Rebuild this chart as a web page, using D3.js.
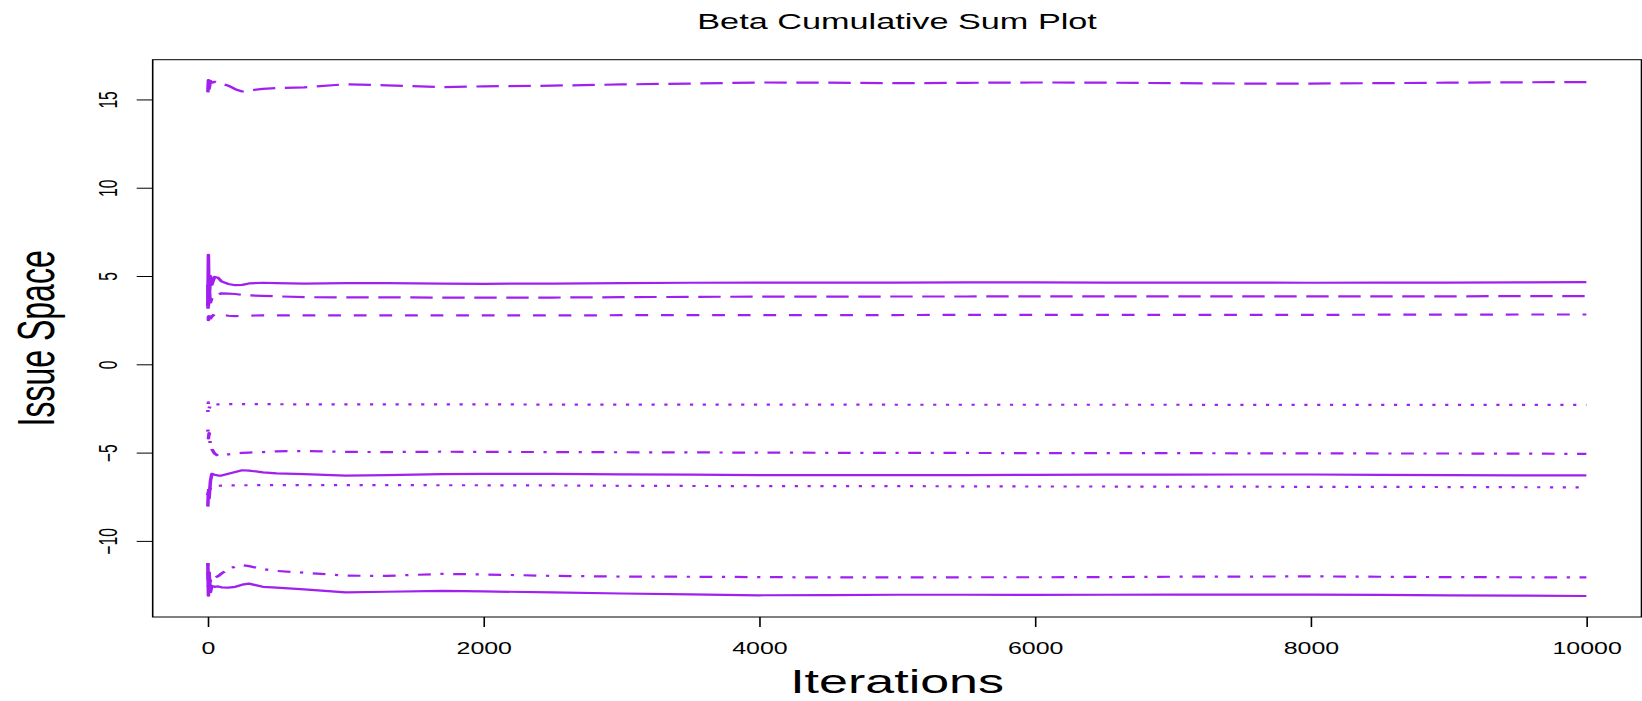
<!DOCTYPE html>
<html><head><meta charset="utf-8">
<script src="https://cdn.jsdelivr.net/npm/d3@7"></script>
<style>
body{margin:0;background:#fff}
svg{display:block}
text{font-family:"Liberation Sans",Arial,Helvetica,sans-serif;fill:#000}
</style>
</head><body>
<script>
// ---- data ----
const iterations = [1,5,10,20,30,50,75,100,150,200,250,300,400,500,700,1000,1300,1700,2000,2500,3000,3500,4000,4500,5000,5500,6000,6500,7000,7500,8000,8500,9000,9500,10000];
const beta1 = [15.4,16.1,15.6,16.05,15.95,16.0,15.95,15.9,15.78,15.58,15.45,15.5,15.6,15.65,15.68,15.86,15.8,15.7,15.74,15.78,15.85,15.9,15.96,15.95,15.92,15.94,15.96,15.95,15.92,15.9,15.9,15.92,15.95,15.97,15.98];
const beta2 = [3.3,6.2,3.6,5.0,4.5,4.95,4.9,4.7,4.55,4.48,4.5,4.58,4.62,4.6,4.57,4.6,4.6,4.57,4.56,4.57,4.6,4.62,4.63,4.63,4.63,4.64,4.64,4.63,4.63,4.63,4.62,4.63,4.63,4.64,4.65];
const beta3 = [4.5,3.3,4.2,3.5,3.75,3.8,3.95,4.02,4.0,3.98,3.93,3.9,3.88,3.85,3.8,3.79,3.79,3.78,3.78,3.78,3.8,3.82,3.83,3.83,3.84,3.84,3.85,3.85,3.85,3.85,3.85,3.85,3.85,3.86,3.86];
const beta4 = [3.6,2.5,3.0,2.6,2.7,2.85,2.88,2.82,2.75,2.73,2.74,2.76,2.77,2.77,2.77,2.77,2.77,2.77,2.77,2.77,2.78,2.78,2.78,2.79,2.79,2.8,2.8,2.8,2.8,2.8,2.8,2.81,2.81,2.82,2.82];
const beta5 = [-2.7,-2.15,-2.5,-2.3,-2.35,-2.28,-2.27,-2.27,-2.26,-2.26,-2.26,-2.26,-2.26,-2.26,-2.27,-2.27,-2.27,-2.27,-2.27,-2.28,-2.28,-2.28,-2.28,-2.28,-2.29,-2.29,-2.29,-2.29,-2.29,-2.3,-2.3,-2.3,-2.3,-2.3,-2.3];
const beta6 = [-3.7,-4.2,-3.9,-4.6,-4.8,-5.05,-5.19,-5.17,-5.1,-5.05,-5.02,-5.0,-4.97,-4.93,-4.91,-4.96,-4.97,-4.95,-4.96,-4.97,-4.98,-4.99,-5.0,-5.01,-5.02,-5.02,-5.03,-5.03,-5.03,-5.04,-5.04,-5.05,-5.05,-5.06,-5.07];
const beta7 = [-8.06,-7.2,-7.6,-6.6,-6.2,-6.25,-6.3,-6.3,-6.2,-6.1,-6.0,-6.02,-6.12,-6.18,-6.22,-6.3,-6.28,-6.22,-6.2,-6.2,-6.23,-6.25,-6.27,-6.28,-6.27,-6.27,-6.26,-6.25,-6.25,-6.24,-6.24,-6.26,-6.28,-6.29,-6.29];
const beta8 = [-7.4,-7.0,-7.3,-6.95,-6.93,-6.9,-6.88,-6.87,-6.86,-6.86,-6.85,-6.85,-6.84,-6.84,-6.84,-6.84,-6.84,-6.85,-6.85,-6.86,-6.88,-6.89,-6.9,-6.9,-6.9,-6.91,-6.92,-6.92,-6.93,-6.93,-6.94,-6.94,-6.95,-6.96,-6.97];
const beta9 = [-11.3,-12.6,-11.8,-12.3,-12.12,-12.1,-12.0,-11.85,-11.6,-11.45,-11.37,-11.43,-11.6,-11.7,-11.8,-11.97,-11.98,-11.87,-11.9,-11.98,-12.02,-12.03,-12.05,-12.07,-12.07,-12.06,-12.06,-12.05,-12.03,-12.02,-12.01,-12.03,-12.05,-12.06,-12.07];
const beta10 = [-11.25,-13.1,-11.8,-12.9,-12.55,-12.6,-12.58,-12.63,-12.65,-12.6,-12.48,-12.42,-12.6,-12.65,-12.75,-12.92,-12.88,-12.83,-12.86,-12.92,-12.98,-13.03,-13.08,-13.07,-13.05,-13.05,-13.06,-13.05,-13.04,-13.04,-13.04,-13.06,-13.08,-13.1,-13.12];
const seriesList = [beta1,beta2,beta3,beta4,beta5,beta6,beta7,beta8,beta9,beta10];
const lineTypes = ["longdash","solid","longdash","dashed","dotted","dotdash","solid","dotted","dotdash","solid"];
const xTicks = [0,2000,4000,6000,8000,10000];
const yTicks = [-10,-5,0,5,10,15];
const titleText = "Beta Cumulative Sum Plot";
const xLabel = "Iterations";
const yLabel = "Issue Space";

// ---- drawing ----
const W = 1642, H = 701, S = 1.6; // reference is horizontally stretched
const svg = d3.select("body").append("svg").attr("width", W).attr("height", H);
const g = svg.append("g").attr("transform", `scale(${S},1)`);
const pL = 152.7 / S, pR = 1641.5 / S, pT = 59.7, pB = 617;
const x = d3.scaleLinear().domain([-399, 10400]).range([pL, pR]);
const y = d3.scaleLinear().domain([-14.31, 17.25]).range([pB, pT]);
const color = "#A020F0";
const lw = 2;
const dashes = {solid: null, dashed: [4,4], dotted: [1,3], dotdash: [1,3,4,3], longdash: [7,3]};

const line = d3.line().x((d, i) => x(iterations[i])).y(d => y(d));
seriesList.forEach((s, k) => {
  const da = dashes[lineTypes[k]];
  g.append("path").datum(s)
    .attr("d", line)
    .attr("fill", "none")
    .attr("stroke", color)
    .attr("stroke-width", 2.2)
    .attr("stroke-linejoin", "round")
    .attr("stroke-dasharray", da ? da.map(v => v * lw).join(",") : null);
});

// box
g.append("rect").attr("x", pL).attr("y", pT).attr("width", pR - pL).attr("height", pB - pT)
  .attr("fill", "none").attr("stroke", "#000").attr("stroke-width", 1);

// x axis
const xa = g.append("g").attr("transform", `translate(0,${pB})`)
  .call(d3.axisBottom(x).tickValues(xTicks).tickSize(10).tickFormat(d3.format("d")));
xa.select(".domain").remove();
xa.selectAll(".tick line").attr("stroke", "#000");
xa.selectAll(".tick text").attr("y", 37).attr("dy", 0).attr("font-size", 15.6)
  .style("font-family", '"Liberation Sans",Arial,sans-serif').attr("fill", "#000");

// y axis
const ya = g.append("g").attr("transform", `translate(${pL},0)`)
  .call(d3.axisLeft(y).tickValues(yTicks).tickSize(10));
ya.select(".domain").remove();
ya.selectAll(".tick line").attr("stroke", "#000");
ya.selectAll(".tick text")
  .attr("x", null).attr("dy", 0)
  .attr("transform", `translate(${116.5 / S - pL},0) rotate(-90)`)
  .attr("text-anchor", "middle").attr("font-size", 15.6)
  .style("font-family", '"Liberation Sans",Arial,sans-serif').attr("fill", "#000");

// title and labels
const cx = (pL + pR) / 2;
g.append("text").attr("x", cx).attr("y", 29).attr("text-anchor", "middle")
  .attr("font-size", 21.4).text(titleText);
g.append("text").attr("x", cx).attr("y", 693).attr("text-anchor", "middle")
  .attr("font-size", 32.5).text(xLabel);
g.append("text").attr("transform", `translate(${54 / S},${(pT + pB) / 2}) rotate(-90)`)
  .attr("text-anchor", "middle").attr("font-size", 32).text(yLabel);
</script>
</body></html>
